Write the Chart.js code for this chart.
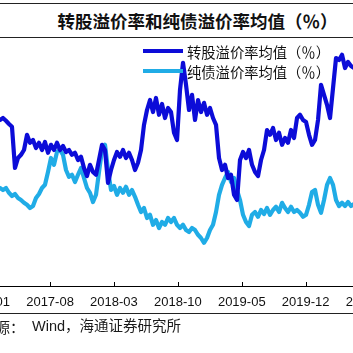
<!DOCTYPE html>
<html><head><meta charset="utf-8">
<script src="https://cdn.jsdelivr.net/npm/chart.js@4"></script>
<style>
html,body{margin:0;padding:0;background:#fff;width:353px;height:353px;overflow:hidden;position:relative;}
.rule{position:absolute;left:0;width:353px;height:0;border-top:1px solid #222;}
#title{position:absolute;left:0;width:395px;text-align:center;top:12px;font:bold 17.5px/17.5px "Noto Sans CJK SC",sans-serif;color:#111;white-space:nowrap;}
#wrap{position:absolute;left:-60px;top:38px;width:480px;height:278px;}
.leg{position:absolute;left:143px;height:0;white-space:nowrap;}
.leg i{position:absolute;left:0;top:-2px;width:40px;height:4px;}
.leg span{position:absolute;left:44px;top:-7.5px;font:14.3px/15px "Noto Sans CJK SC",sans-serif;color:#111;}
.src{position:absolute;top:319px;font:14.5px/15px "Liberation Sans","Noto Sans CJK SC",sans-serif;color:#1a1a1a;white-space:nowrap;}
</style></head>
<body>
<div class="rule" style="top:3px"></div>
<div id="title">转股溢价率和纯债溢价率均值（％）</div>
<div class="rule" style="top:37px"></div>
<div id="wrap"><canvas id="c"></canvas></div>
<div id="legend"></div>
<div class="rule" style="top:313px"></div>
<div class="src" style="left:-48px;font-family:'Noto Sans CJK SC'">资料来源：</div>
<div class="src" style="left:32px">Wind，海通证券研究所</div>
<script>
const seriesNames = ['转股溢价率均值（％）', '纯债溢价率均值（％）'];
const seriesColors = ['#0c0cd8', '#20ace6'];
// sampling: months after 2017-01 of first sample, and spacing in months
const startMonth = 1.52;
const stepMonth = 0.3286;
const premiumConv = [
41.5,42,41.3,40.5,39.8,29.5,32,32.8,34,37.8,35.8,36.5,34.5,35.8,34,36,33.3,35.3,34,35.8,
34,35,33.5,34,32.8,33.3,31.5,32.3,29.5,27.5,30.3,28.5,27.8,31.5,35.3,34,25.8,29,31.5,33.5,
32.3,34,32,33.3,31.5,29,30.8,34,40.3,44,46.5,43.5,47,42.8,45.5,42,44.5,43.5,38.3,36.5,
49,55.8,50.3,44,47.8,41.5,46.5,43.5,45.8,42.8,44.5,42,40.3,32,29,30.3,27,27.8,22.8,21.5,
31.5,33.5,32,34,30.3,28.5,27.5,31.5,34,39,37.8,39.5,36.5,38.3,35.3,37,35.8,39,37,42,
42.8,41.5,41,37.8,35.3,36.5,41.5,50.3,47.8,45.3,42,49.5,57,56.5,57.8,54.5,56,55,54.5
];
const premiumBond = [
24.5,24,24.5,23.3,22.5,23,22,21.5,20.8,20.3,19.5,20,22,23,24.5,25.3,28.5,32,30.3,33.5,
34,32.8,29,27.3,27.8,26,27.8,29.5,27,24.5,23.3,21,22.8,28.5,34,35.3,29,24,25,22.8,
24.5,23.3,24.8,22.8,24,22.3,20.3,18.5,19.5,17,17.8,15.3,16.5,14.5,16,15.3,17,16,17,15.3,
14.5,15.3,14,13.5,14.5,14,12.8,12,10.8,12,14,15.3,18.5,22.8,25.3,27,28.5,26,27,24,
21.5,17.8,16,15,17.8,18.5,17.3,19,18,19.5,17.8,19,19.8,18.5,20.8,19.5,18.5,19.8,18.5,19,
18.3,17.3,17.8,20.3,23.5,24,20.3,18.3,21.5,25.3,27,25.3,21.5,20,20.8,20,21,20,20.5
];
const tickMonths = [0, 7, 14, 21, 28, 35, 42];
const tickLabels = ['2017-01', '2017-08', '2018-03', '2018-10', '2019-05', '2019-12', '2020-07'];

const toPts = arr => arr.map((v, i) => ({x: startMonth + i * stepMonth, y: v}));

// HTML legend from series
const legendTops = [51.3, 71.3];
const lg = document.getElementById('legend');
seriesNames.forEach((n, k) => {
  const d = document.createElement('div');
  d.className = 'leg';
  d.style.top = legendTops[k] + 'px';
  d.innerHTML = '<i style="background:' + seriesColors[k] + '"></i><span>' + n + '</span>';
  lg.appendChild(d);
});

const innerTicks = {
  id: 'innerTicks',
  afterDraw(chart) {
    const s = chart.scales.x, ctx = chart.ctx, b = chart.chartArea.bottom;
    ctx.save();
    ctx.strokeStyle = '#000';
    ctx.lineWidth = 1;
    tickMonths.forEach(m => {
      const px = Math.round(s.getPixelForValue(m)) + 0.5;
      ctx.beginPath(); ctx.moveTo(px, b - 4); ctx.lineTo(px, b + 1); ctx.stroke();
    });
    ctx.restore();
  }
};

new Chart(document.getElementById('c'), {
  type: 'line',
  data: {
    datasets: [
      {label: seriesNames[0], data: toPts(premiumConv), borderColor: seriesColors[0], borderWidth: 4.2,
       pointRadius: 0, tension: 0, borderJoinStyle: 'round', borderCapStyle: 'round'},
      {label: seriesNames[1], data: toPts(premiumBond), borderColor: seriesColors[1], borderWidth: 4.2,
       pointRadius: 0, tension: 0, borderJoinStyle: 'round', borderCapStyle: 'round'}
    ]
  },
  options: {
    responsive: true, maintainAspectRatio: false, animation: false,
    layout: {padding: 0},
    plugins: {legend: {display: false}, title: {display: false}, tooltip: {enabled: false}},
    scales: {
      x: {
        type: 'linear', min: -5.05, max: 47.52,
        afterBuildTicks: s => { s.ticks = tickMonths.map(v => ({value: v})); },
        afterFit: s => { s.height = 30; },
        ticks: {
          autoSkip: false, maxRotation: 0, padding: 9, color: '#111',
          font: {family: '"Liberation Sans", Arial, sans-serif', size: 13},
          callback: v => { const k = tickMonths.indexOf(v); return k >= 0 ? tickLabels[k] : ''; }
        },
        grid: {display: true, drawOnChartArea: false, drawTicks: false},
        border: {display: true, color: '#000', width: 1}
      },
      y: {display: false, min: 0, max: 62}
    }
  },
  plugins: [innerTicks]
});
</script>
</body></html>
